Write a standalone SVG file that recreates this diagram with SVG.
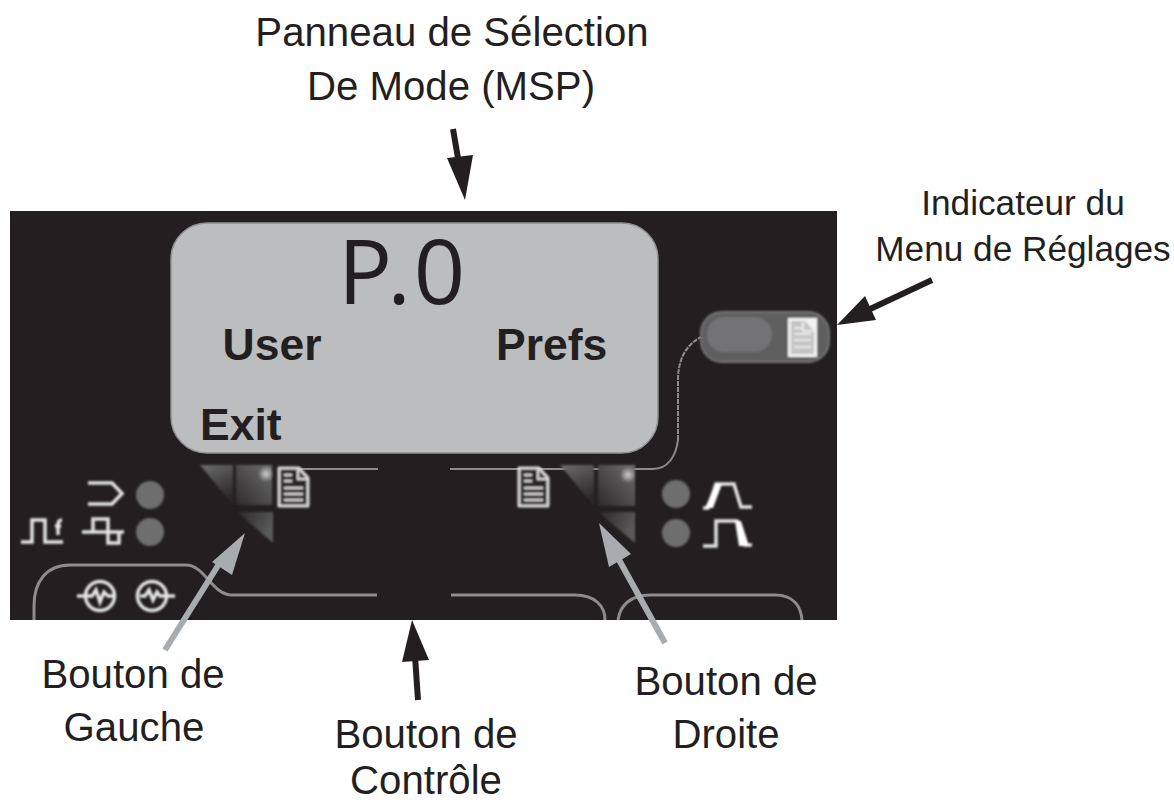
<svg xmlns="http://www.w3.org/2000/svg" width="1174" height="802" viewBox="0 0 1174 802">
<style>
.lbl{font-family:"Liberation Sans",Arial,sans-serif;font-size:40.2px;fill:#231f20;text-anchor:middle}
.sm{font-size:35.2px}
.lcd{font-family:"Liberation Sans",Arial,sans-serif;font-size:44.500px;font-weight:bold;fill:#231f20}
.thin{fill:none;stroke:#8c8c8c;stroke-width:2}
.fat{fill:none;stroke:#8c8c8c;stroke-width:3}
.icon{fill:none;stroke:#e4e4e4;stroke-width:3.500}
.led{fill:#6e6e6e}
.doc{fill:#2a2728;stroke:#dcdcdc;stroke-width:3;stroke-linejoin:round}
.docl{stroke:#d8d8d8;stroke-width:2.500;fill:none}
.blur{filter:url(#soft)}
</style>
<defs>
<filter id="soft" x="-20%" y="-20%" width="140%" height="140%"><feGaussianBlur stdDeviation="0.8"/></filter>
<linearGradient id="t1" x1="0" y1="0" x2="0.4" y2="1"><stop offset="0" stop-color="#6c6c6c"/><stop offset="1" stop-color="#2a2829"/></linearGradient>
<linearGradient id="t2" x1="0" y1="1" x2="1" y2="0"><stop offset="0" stop-color="#2c2a2b"/><stop offset="1" stop-color="#6e6e6e"/></linearGradient>
<linearGradient id="t3" x1="0" y1="0" x2="1" y2="0.4"><stop offset="0" stop-color="#292728"/><stop offset="1" stop-color="#5a5a5a"/></linearGradient>
<radialGradient id="spot"><stop offset="0" stop-color="#cfcfcf"/><stop offset="1" stop-color="#cfcfcf" stop-opacity="0"/></radialGradient>
<g id="docicon">
<path class="doc" d="M0 0H20L29 10V38H0Z"/>
<path class="docl" d="M5 7H13M5 13H13M5 20H24M5 26H24M5 32H24M19 1V11H28"/>
</g>
</defs>
<rect width="1174" height="802" fill="#fff"/>
<g id="panel">
<rect x="10" y="211" width="827" height="409" fill="#231f20"/>
</g>
<g id="lcd">
<rect x="171" y="223" width="487" height="230" rx="36" fill="#bcbdbf" stroke="#8f9092" stroke-width="1.500"/>
<text x="338" y="304" dx="0 -5 3" font-family="'Open Sans',sans-serif" font-size="90" fill="#231f20">P.0</text>
<text class="lcd" x="222.500" y="360">User</text>
<text class="lcd" x="496" y="360">Prefs</text>
<text class="lcd" x="200" y="440">Exit</text>
</g>
<g id="circuit-lines">
<path class="thin" d="M300 469H378M450 469H653C668 469 676 456 678 440"/>
<path class="thin" stroke-width="1.500" stroke-dasharray="5 1" d="M678 440V380C678 362 684 346 701 337"/>
<path class="fat" d="M34 620V606C34 582 46 565 70 565H186C205 565 212 595 232 595H377"/>
<path class="fat" d="M451 595H575C595 595 605 606 605 620"/>
<path class="fat" d="M618 620C620 606 630 595 650 595H775C795 595 801 608 802 620"/>
</g>
<g id="left-button" class="blur">
<path d="M200 465H233V505Z" fill="url(#t1)"/>
<path d="M236 465H272V505H236Z" fill="url(#t2)"/>
<path d="M237 512H273V543Z" fill="url(#t3)"/>
<circle cx="266" cy="474" r="8" fill="url(#spot)"/>
<use href="#docicon" x="279" y="468"/>
</g>
<g id="right-button" class="blur">
<path d="M560 465H594V506Z" fill="url(#t1)"/>
<path d="M598 465H635V506H598Z" fill="url(#t2)"/>
<path d="M598 512H635V543Z" fill="url(#t3)"/>
<circle cx="628" cy="475" r="8" fill="url(#spot)"/>
<use href="#docicon" x="519" y="468"/>
</g>
<g id="left-indicators" class="blur">
<circle class="led" cx="150" cy="495" r="14"/>
<circle class="led" cx="150" cy="532" r="14"/>
<path class="icon" d="M88 483H112L122 493.500L112 504H88"/>
<path class="icon" d="M82 532H124M93 532V519H108V543H119V532"/>
<path class="icon" d="M21 542H32V520H45V542H63"/>
<path class="icon" stroke-width="2.500" d="M58 535V525Q58 520 62 520M55 526H61"/>
</g>
<g id="right-indicators" class="blur">
<circle class="led" cx="676" cy="494" r="14"/>
<circle class="led" cx="676" cy="533" r="14"/>
<path class="icon" stroke-width="2.500" d="M703 508H708L716 484H734L741 507H752"/>
<path class="icon" stroke-width="2.500" d="M703 546H716V521H737L745 545H752"/>
<path d="M705 508L716 484H722L713 508Z" fill="#fff"/>
<path d="M735 521H741L749 546H739Z" fill="#fff"/>
</g>
<g id="mode-icons" class="blur">
<circle class="icon" cx="100" cy="596" r="14.500"/>
<circle class="icon" cx="152" cy="596" r="14.500"/>
<path class="icon" stroke-width="2.500" d="M77 596H92L96 590L100 602L104 592L108 596H114M140 596H145L149 590L153 600L157 592L160 596H175"/>
</g>
<g id="settings-indicator" class="blur">
<rect x="701" y="312" width="128" height="50" rx="21" fill="#5e5e60" stroke="#757577" stroke-width="2"/>
<rect x="707" y="317" width="65" height="35" rx="17" fill="#737375"/>
<rect x="788" y="318" width="29" height="39" fill="#f2f2f2"/>
<path d="M791 321V354H814V331L805 321Z" fill="#c4c4c4"/>
<path d="M794 328H802M794 334H811M794 340H811M794 347H811M803 322V331H813" stroke="#f6f6f6" stroke-width="1.500" fill="none"/>
</g>
<g id="connectors">
<path d="M453 129L459 164" stroke="#231f20" stroke-width="6"/>
<path d="M465 200L447 158L473 155Z" fill="#231f20"/>
<path d="M932 280L868 310" stroke="#231f20" stroke-width="6"/>
<path d="M837 325L865 296L876 320Z" fill="#231f20"/>
<path d="M165 650L224 556" stroke="#a9acae" stroke-width="6"/>
<path d="M245 533L232 575L212 562Z" fill="#a9acae"/>
<path d="M665 643L618 558" stroke="#a9acae" stroke-width="6"/>
<path d="M599 523L631 554L609 567Z" fill="#a9acae"/>
<path d="M418 700L415 656" stroke="#231f20" stroke-width="6"/>
<path d="M412 620L429 660L402 662Z" fill="#231f20"/>
</g>
<g id="labels">
<text class="lbl" x="452" y="46">Panneau de Sélection</text>
<text class="lbl" x="451" y="100">De Mode (MSP)</text>
<text class="lbl sm" x="1023" y="215">Indicateur du</text>
<text class="lbl sm" x="1023" y="261">Menu de Réglages</text>
<text class="lbl" x="133" y="688">Bouton de</text>
<text class="lbl" x="134" y="741">Gauche</text>
<text class="lbl" x="426" y="748">Bouton de</text>
<text class="lbl" x="426" y="794">Contrôle</text>
<text class="lbl" x="726" y="695">Bouton de</text>
<text class="lbl" x="726" y="748">Droite</text>
</g>
</svg>
